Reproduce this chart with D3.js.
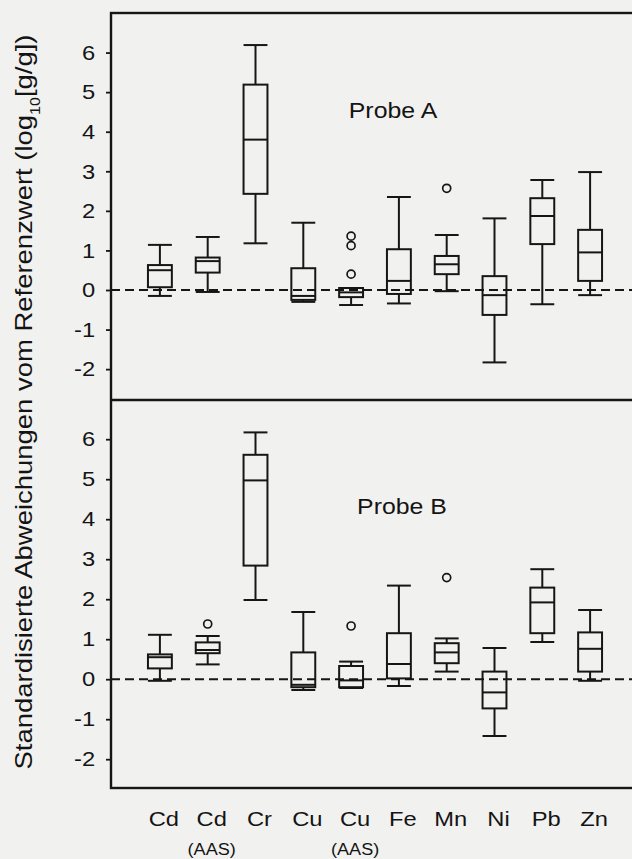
<!DOCTYPE html>
<html>
<head>
<meta charset="utf-8">
<script src="https://cdn.jsdelivr.net/npm/d3@7"></script>
<style>
  body { margin: 0; background: #f1f1ef; }
  svg { display: block; }
  text { font-family: "Liberation Sans", Arial, sans-serif; fill: #141414; }
</style>
</head>
<body>
<div id="chart"></div>
<script>
// categories and sub labels
let categories = ["Cd", "Cd (AAS)", "Cr", "Cu", "Cu (AAS)", "Fe", "Mn", "Ni", "Pb", "Zn"];
let mainLabels = ["Cd", "Cd", "Cr", "Cu", "Cu", "Fe", "Mn", "Ni", "Pb", "Zn"];
let subLabels  = ["", "(AAS)", "", "", "(AAS)", "", "", "", "", ""];
let yTicks = [-2, -1, 0, 1, 2, 3, 4, 5, 6];

// Probe A
let minA    = [-0.15, -0.05, 1.18, -0.30, -0.38, -0.34, -0.03, -1.83, -0.36, -0.13];
let q1A     = [ 0.07,  0.44, 2.43, -0.25, -0.18, -0.10,  0.40, -0.63,  1.16,  0.23];
let medA    = [ 0.50,  0.73, 3.80, -0.15, -0.06,  0.23,  0.65, -0.13,  1.87,  0.95];
let q3A     = [ 0.63,  0.82, 5.19,  0.55,  0.05,  1.03,  0.86,  0.35,  2.32,  1.52];
let maxA    = [ 1.14,  1.34, 6.19,  1.70,  0.05,  2.35,  1.39,  1.81,  2.78,  2.98];
let outA    = [[], [], [], [], [0.40, 1.12, 1.36], [], [2.57], [], [], []];

// Probe B
let minB    = [-0.04, 0.37, 1.98, -0.27, -0.22, -0.17, 0.19, -1.42, 0.93, -0.04];
let q1B     = [ 0.27, 0.65, 2.84, -0.20, -0.20,  0.02, 0.40, -0.73, 1.15,  0.19];
let medB    = [ 0.55, 0.73, 4.97, -0.14, -0.03,  0.38, 0.67, -0.33, 1.92,  0.76];
let q3B     = [ 0.62, 0.92, 5.61,  0.67,  0.33,  1.15, 0.90,  0.19, 2.29,  1.17];
let maxB    = [ 1.11, 1.08, 6.17,  1.68,  0.44,  2.34, 1.02,  0.78, 2.75,  1.73];
let outB    = [[], [1.38], [], [], [1.33], [], [2.54], [], [], []];

let W = 632, H = 859;
let left = 111, right = 645;
let ink = "#161616";
let stretch = 1.13; // scanned text is a bit wider than plain Arial

let svg = d3.select("#chart").append("svg")
  .attr("width", W)
  .attr("height", H);

let x = d3.scaleBand()
  .domain(categories)
  .range([136, 614])
  .paddingInner(0.5)
  .paddingOuter(0.25);

let panels = [
  { name: "Probe A", top: 13, bottom: 400, domain: [-2.78, 7.0],
    min: minA, q1: q1A, med: medA, q3: q3A, max: maxA, out: outA, lx: 393, ly: 118 },
  { name: "Probe B", top: 400, bottom: 788, domain: [-2.72, 6.98],
    min: minB, q1: q1B, med: medB, q3: q3B, max: maxB, out: outB, lx: 402, ly: 514 }
];

panels.forEach(function (p) {
  let y = d3.scaleLinear().domain(p.domain).range([p.bottom, p.top]);
  let g = svg.append("g");

  // reference line at zero
  g.append("line")
    .attr("x1", left).attr("x2", right)
    .attr("y1", y(0)).attr("y2", y(0))
    .attr("stroke", ink).attr("stroke-width", 2)
    .attr("stroke-dasharray", "9,5");

  // y axis
  let ax = g.append("g")
    .attr("transform", "translate(" + left + ",0)")
    .call(d3.axisLeft(y).tickValues(yTicks).tickSize(5).tickPadding(9)
      .tickFormat(d3.format("d")));
  ax.select(".domain").remove();
  ax.selectAll("line").attr("stroke", ink).attr("stroke-width", 1.8);
  ax.selectAll("text")
    .style("font-size", "21px")
    .style("font-family", "'Liberation Sans', Arial, sans-serif")
    .attr("fill", ink)
    .attr("transform", "scale(" + stretch + ",1)")
    .text(function (d) { return d < 0 ? "-" + Math.abs(d) : d; });

  let bw = x.bandwidth();
  let box = g.selectAll("g.box").data(categories).enter().append("g")
    .attr("class", "box")
    .attr("transform", function (d) { return "translate(" + x(d) + ",0)"; });

  box.each(function (d, i) {
    let b = d3.select(this);
    let cx = bw / 2;
    let lw = 2;
    // whiskers
    b.append("line").attr("x1", cx).attr("x2", cx)
      .attr("y1", y(p.max[i])).attr("y2", y(p.q3[i]))
      .attr("stroke", ink).attr("stroke-width", lw);
    b.append("line").attr("x1", cx).attr("x2", cx)
      .attr("y1", y(p.q1[i])).attr("y2", y(p.min[i]))
      .attr("stroke", ink).attr("stroke-width", lw);
    // caps
    [p.max[i], p.min[i]].forEach(function (v) {
      b.append("line").attr("x1", 0).attr("x2", bw)
        .attr("y1", y(v)).attr("y2", y(v))
        .attr("stroke", ink).attr("stroke-width", lw);
    });
    // box
    b.append("rect")
      .attr("x", 0).attr("width", bw)
      .attr("y", y(p.q3[i]))
      .attr("height", Math.max(1, y(p.q1[i]) - y(p.q3[i])))
      .attr("fill", "none")
      .attr("stroke", ink).attr("stroke-width", lw);
    // median
    b.append("line").attr("x1", 0).attr("x2", bw)
      .attr("y1", y(p.med[i])).attr("y2", y(p.med[i]))
      .attr("stroke", ink).attr("stroke-width", lw);
    // outliers
    b.selectAll("circle").data(p.out[i]).enter().append("circle")
      .attr("cx", cx).attr("cy", function (v) { return y(v); })
      .attr("r", 4)
      .attr("fill", "none")
      .attr("stroke", ink).attr("stroke-width", 1.7);
  });

  g.append("text")
    .attr("transform", "translate(" + p.lx + "," + p.ly + ") scale(" + stretch + ",1)")
    .attr("text-anchor", "middle")
    .style("font-size", "22px")
    .text(p.name);
});

// frame
svg.append("rect")
  .attr("x", left).attr("y", 13)
  .attr("width", right - left).attr("height", 788 - 13)
  .attr("fill", "none").attr("stroke", ink).attr("stroke-width", 2.4);
svg.append("line")
  .attr("x1", left).attr("x2", right)
  .attr("y1", 400).attr("y2", 400)
  .attr("stroke", ink).attr("stroke-width", 2.4);

// x labels
let xl = svg.append("g").selectAll("g").data(categories).enter().append("g")
  .attr("transform", function (d) { return "translate(" + (x(d) + x.bandwidth() / 2 + 4) + ",0)"; });
xl.append("text")
  .attr("transform", "translate(0,826) scale(" + stretch + ",1)")
  .attr("text-anchor", "middle")
  .style("font-size", "21px")
  .text(function (d, i) { return mainLabels[i]; });
xl.append("text")
  .attr("transform", "translate(0,855) scale(" + stretch + ",1)")
  .attr("text-anchor", "middle")
  .style("font-size", "16px")
  .text(function (d, i) { return subLabels[i]; });

// y title
svg.append("text")
  .attr("transform", "translate(32,402) rotate(-90)")
  .attr("text-anchor", "middle")
  .attr("textLength", 735)
  .attr("lengthAdjust", "spacingAndGlyphs")
  .style("font-size", "24px")
  .text("Standardisierte Abweichungen vom Referenzwert (log")
  .append("tspan").attr("baseline-shift", "sub").style("font-size", "14px").text("10")
  .select(function () { return this.parentNode; })
  .append("tspan").text("[g/g])");
</script>
</body>
</html>
